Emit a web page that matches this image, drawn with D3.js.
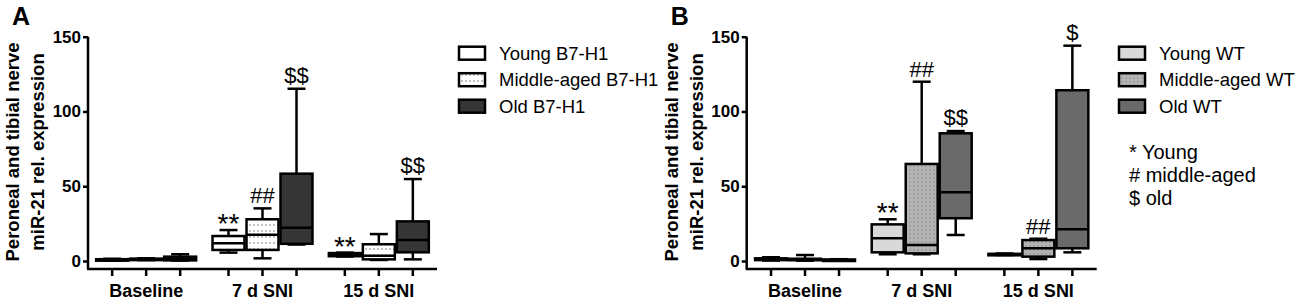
<!DOCTYPE html>
<html>
<head>
<meta charset="utf-8">
<script src="https://cdn.jsdelivr.net/npm/d3@7/dist/d3.min.js"></script>
<style>
  html, body { margin: 0; padding: 0; background: #fff; }
  svg { display: block; }
  text { font-family: "Liberation Sans", Arial, sans-serif; fill: #000; }
</style>
</head>
<body>
<script>
// ---------- DATA ----------
const categories = ["Baseline", "7 d SNI", "15 d SNI"];
const yTicks = [0, 50, 100, 150];
const seriesA = ["Young B7-H1", "Middle-aged B7-H1", "Old B7-H1"];
const seriesB = ["Young WT", "Middle-aged WT", "Old WT"];
// per category: [min, q1, median, q3, max]
const youngB7H1  = [[0.4, 0.5, 0.8, 1.2, 1.5], [5.6, 7.4, 11.8, 16.7, 20.7], [3.0, 3.2, 4.3, 5.3, 5.6]];
const middleB7H1 = [[0.6, 0.8, 1.2, 1.6, 1.8], [1.8, 7.4, 17.6, 27.9, 35.2], [0.7, 1.1, 3.5, 11.2, 18.0]];
const oldB7H1    = [[0.3, 0.4, 1.5, 2.9, 4.5], [11.0, 11.5, 22.3, 58.4, 115.2], [1.1, 5.8, 14.0, 26.5, 54.8]];
const youngWT    = [[0.3, 0.6, 1.0, 1.8, 2.5], [4.5, 5.8, 15.2, 24.5, 27.9], [4.0, 4.2, 4.5, 4.8, 5.0]];
const middleWT   = [[0.2, 0.5, 1.0, 1.5, 4.0], [4.5, 5.1, 10.7, 64.9, 119.9], [1.3, 2.9, 8.5, 14.0, 14.9]];
const oldWT      = [[0.4, 0.5, 0.7, 1.0, 1.2], [17.4, 28.6, 45.9, 85.4, 86.9], [5.8, 8.5, 21.2, 114.2, 144.0]];
// significance marks per category, per series
const marksA = [["", "", ""], ["**", "##", "$$"], ["**", "", "$$"]];
const marksB = [["", "", ""], ["**", "##", "$$"], ["", "##", "$"]];
const notes = ["* Young", "# middle-aged", "$ old"];

// ---------- DRAW ----------
const W = 1300, H = 305;
const svg = d3.select("body").append("svg").attr("width", W).attr("height", H);

const defs = svg.append("defs");
const pa = defs.append("pattern").attr("id", "dotsA").attr("patternUnits", "userSpaceOnUse")
  .attr("width", 4).attr("height", 6);
pa.append("rect").attr("width", 4).attr("height", 6).attr("fill", "#fff");
pa.append("circle").attr("cx", 2).attr("cy", 3).attr("r", 0.8).attr("fill", "#777");
const pb = defs.append("pattern").attr("id", "dotsB").attr("patternUnits", "userSpaceOnUse")
  .attr("width", 4).attr("height", 4);
pb.append("rect").attr("width", 4).attr("height", 4).attr("fill", "#b4b4b4");
pb.append("circle").attr("cx", 2).attr("cy", 2).attr("r", 0.8).attr("fill", "#8a8a8a");

const panels = [
  { letter: "A", x0: 88, x1: 437, series: seriesA, data: [youngB7H1, middleB7H1, oldB7H1], marks: marksA,
    fills: ["#ffffff", "url(#dotsA)", "#353535"], legendX: 459, notes: false },
  { letter: "B", x0: 746.7, x1: 1096.7, series: seriesB, data: [youngWT, middleWT, oldWT], marks: marksB,
    fills: ["#d9d9d9", "url(#dotsB)", "#6a6a6a"], legendX: 1119, notes: true }
];

const yTop = 36.7, yZero = 261, yBottom = 269;
const pxPerUnit = (yZero - yTop) / 150;
const yMin = -(yBottom - yZero) / pxPerUnit;
const SW = 2.5;

panels.forEach(p => {
  const g = svg.append("g");
  const y = d3.scaleLinear().domain([yMin, 150]).range([yBottom, yTop]);
  const x = d3.scaleBand().domain(categories).range([p.x0, p.x1]).paddingInner(0).paddingOuter(0);
  const bw = x.bandwidth();
  const sub = d3.scaleBand().domain([0, 1, 2]).range([bw / 2 - 51, bw / 2 + 51]).paddingInner(0.06).paddingOuter(0.03);
  const boxW = sub.bandwidth();
  const capW = 18;

  // y axis
  const yAxis = g.append("g").attr("transform", `translate(${p.x0},0)`)
    .call(d3.axisLeft(y).tickValues(yTicks).tickSize(5).tickPadding(2).tickSizeOuter(0));
  yAxis.select(".domain").attr("stroke", "#000").attr("stroke-width", SW)
    .attr("d", `M0,${yTop}V${yBottom}`);
  yAxis.selectAll(".tick line").attr("stroke", "#000").attr("stroke-width", SW);
  yAxis.selectAll(".tick text").style("font-size", "17px").style("font-weight", "bold")
    .style("font-family", "'Liberation Sans', Arial, sans-serif").attr("fill", "#000");

  // x axis
  const xAxis = g.append("g").attr("transform", `translate(0,${yBottom})`)
    .call(d3.axisBottom(x).tickSize(0).tickPadding(15).tickSizeOuter(0));
  xAxis.select(".domain").attr("stroke", "#000").attr("stroke-width", SW)
    .attr("d", `M${p.x0 - 1},0H${p.x1}`);
  xAxis.selectAll(".tick text").style("font-size", "18px").style("font-weight", "bold")
    .style("font-family", "'Liberation Sans', Arial, sans-serif").attr("fill", "#000");
  const tickPos = [];
  categories.forEach(c => [0, 1, 2].forEach(s => tickPos.push(x(c) + sub(s) + boxW / 2)));
  g.append("g").selectAll("line").data(tickPos).join("line")
    .attr("x1", d => d).attr("x2", d => d).attr("y1", yBottom).attr("y2", yBottom + 7)
    .attr("stroke", "#000").attr("stroke-width", SW);

  // boxes
  p.data.forEach((arr, s) => {
    arr.forEach((st, ci) => {
      const cx = x(categories[ci]) + sub(s) + boxW / 2;
      const [mn, q1, md, q3, mx] = st;
      const bg = g.append("g");
      bg.append("line").attr("x1", cx).attr("x2", cx).attr("y1", y(mx)).attr("y2", y(mn))
        .attr("stroke", "#000").attr("stroke-width", SW);
      [mn, mx].forEach(v => bg.append("line").attr("x1", cx - capW / 2).attr("x2", cx + capW / 2)
        .attr("y1", y(v)).attr("y2", y(v)).attr("stroke", "#000").attr("stroke-width", SW));
      bg.append("rect").attr("x", cx - boxW / 2).attr("width", boxW)
        .attr("y", y(q3)).attr("height", Math.max(y(q1) - y(q3), 1.5))
        .attr("fill", p.fills[s]).attr("stroke", "#000").attr("stroke-width", SW);
      bg.append("line").attr("x1", cx - boxW / 2).attr("x2", cx + boxW / 2)
        .attr("y1", y(md)).attr("y2", y(md)).attr("stroke", "#000").attr("stroke-width", SW);
      const m = p.marks[ci][s];
      if (m) {
        const isStar = m.indexOf("*") >= 0;
        const off = isStar ? 3 : (m.indexOf("$") >= 0 ? -6 : -5);
        bg.append("text").attr("x", cx).attr("y", y(mx) + off)
          .attr("text-anchor", "middle").style("font-size", isStar ? "28px" : "22px").text(m);
      }
    });
  });

  // y label
  const ly = 152;
  const lab = g.append("g").attr("transform", `translate(${p.x0 - 69},${ly}) rotate(-90)`);
  lab.append("text").attr("text-anchor", "middle").style("font-size", "18.5px").style("font-weight", "bold")
    .text("Peroneal and tibial nerve");
  lab.append("text").attr("text-anchor", "middle").attr("y", 25).style("font-size", "18.5px").style("font-weight", "bold")
    .text("miR-21 rel. expression");

  // panel letter
  g.append("text").attr("x", p.x0 - 76).attr("y", 25).style("font-size", "25px").style("font-weight", "bold")
    .text(p.letter);

  // legend
  const lg = g.append("g");
  p.series.forEach((name, s) => {
    const top = 46.7 + s * 26.5;
    lg.append("rect").attr("x", p.legendX).attr("y", top).attr("width", 26).attr("height", 13)
      .attr("fill", p.fills[s]).attr("stroke", "#000").attr("stroke-width", SW);
    lg.append("text").attr("x", p.legendX + 40).attr("y", top + 13).style("font-size", "18.5px").text(name);
  });
  if (p.notes) {
    notes.forEach((t, i) => {
      lg.append("text").attr("x", p.legendX + 10).attr("y", 159 + i * 23).style("font-size", "20px").text(t);
    });
  }
});
</script>
</body>
</html>
